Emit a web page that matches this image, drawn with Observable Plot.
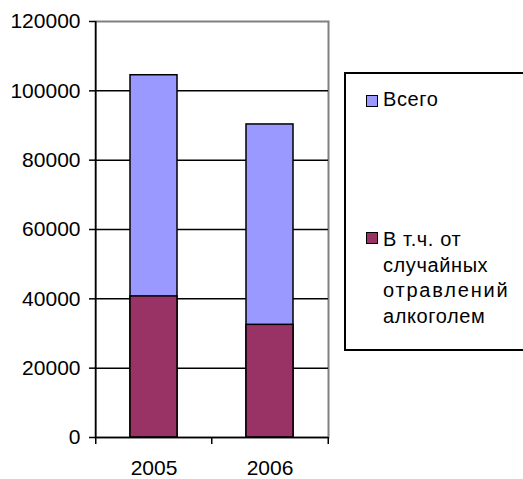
<!DOCTYPE html>
<html>
<head>
<meta charset="utf-8">
<script src="https://cdn.jsdelivr.net/npm/d3@7"></script>
<script src="https://cdn.jsdelivr.net/npm/@observablehq/plot@0.6"></script>
<style>
  html, body { margin: 0; padding: 0; background: #fff; }
  #wrap { position: relative; width: 523px; height: 479px; overflow: hidden; font-family: "Liberation Sans", Arial, sans-serif; }
  #legend { position: absolute; left: 344px; top: 72px; width: 200px; height: 279px; border: 2px solid #000; box-sizing: border-box; background: #fff; font-size: 20px; color: #000; }
  .sw { position: absolute; left: 20px; width: 12px; height: 12px; border: 1px solid #000; box-sizing: border-box; }
  .lbl { position: absolute; left: 37px; line-height: 25.5px; white-space: nowrap; letter-spacing: 0.6px; }
  .wide { letter-spacing: 1.8px; }
</style>
</head>
<body>
<div id="wrap">
  <div id="chart"></div>
  <div id="legend"></div>
</div>
<script>
const years = ["2005", "2006"];
const total = [104500, 90300];
const alcohol = [40700, 32500];
const yTicks = [0, 20000, 40000, 60000, 80000, 100000, 120000];
const seriesNames = ["Всего", "В т.ч. от случайных отравлений алкоголем"];
const seriesColors = ["#9999FF", "#993366"];

const totalData = years.map((y, i) => ({year: y, value: total[i]}));
const alcData = years.map((y, i) => ({year: y, value: alcohol[i]}));
const step = 233 / 2;

const chart = Plot.plot({
  width: 523,
  height: 479,
  marginLeft: 95,
  marginRight: 195,
  marginTop: 21,
  marginBottom: 42,
  style: {fontFamily: "Liberation Sans, Arial, sans-serif", fontSize: "21px", color: "#000", background: "#fff"},
  x: {domain: years, paddingInner: 0.597, paddingOuter: 0.2985},
  y: {domain: [0, 120000]},
  marks: [
    Plot.frame({stroke: "#808080", strokeWidth: 2}),
    Plot.ruleY(yTicks.slice(1, -1), {stroke: "#000", strokeWidth: 1.5}),
    Plot.barY(totalData, {x: "year", y: "value", fill: seriesColors[0], stroke: "#000", strokeWidth: 1.5}),
    Plot.barY(alcData, {x: "year", y: "value", fill: seriesColors[1], stroke: "#000", strokeWidth: 1.5}),
    Plot.ruleY([0], {stroke: "#000", strokeWidth: 1.5}),
    Plot.ruleX([years[0]], {dx: -step / 2, stroke: "#000", strokeWidth: 1.5}),
    Plot.ruleX(years, {y1: 0, y2: 0, insetBottom: -7, dx: -step / 2, stroke: "#000", strokeWidth: 1.5}),
    Plot.ruleX([years[years.length - 1]], {y1: 0, y2: 0, insetBottom: -7, dx: step / 2, stroke: "#000", strokeWidth: 1.5}),
    Plot.axisY({ticks: yTicks, tickSize: 6, tickPadding: 9, tickFormat: d => String(d), stroke: "#000", strokeWidth: 1.5, fontSize: 21, label: null}),
    Plot.axisX({tickSize: 0, tickPadding: 23, fontSize: 21, label: null})
  ]
});
document.getElementById("chart").appendChild(chart);

const legend = document.getElementById("legend");
const swatchTops = [21, 158];
const labelTops = [13, 153];
const labels = ["Всего", "В т.ч. от<br>случайных<br><span class=\"wide\">отравлений</span><br>алкоголем"];
seriesNames.forEach((n, i) => {
  const sw = document.createElement("div");
  sw.className = "sw";
  sw.style.top = swatchTops[i] + "px";
  sw.style.background = seriesColors[i];
  legend.appendChild(sw);
  const lb = document.createElement("div");
  lb.className = "lbl";
  lb.style.top = labelTops[i] + "px";
  lb.innerHTML = labels[i];
  legend.appendChild(lb);
});
</script>
</body>
</html>
